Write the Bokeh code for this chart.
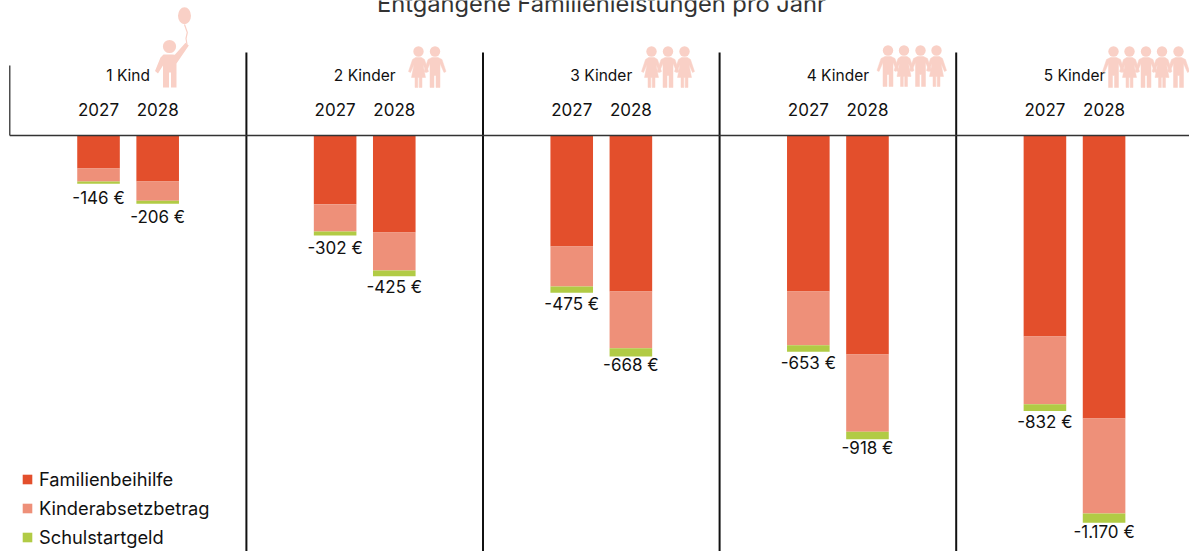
from bokeh.plotting import figure
from bokeh.embed import file_html
from bokeh.resources import INLINE
from bokeh.models import Range1d, ColumnDataSource, Legend, LegendItem
from bokeh.core.properties import value
import numpy as np

groups = ["1 Kind", "2 Kinder", "3 Kinder", "4 Kinder", "5 Kinder"]
years = ["2027", "2028"]
familienbeihilfe = [100, 139, 208, 293, 335, 471, 471, 662, 607, 855]
kinderabsetzbetrag = [39, 58, 82, 115, 121, 172, 163, 233, 205, 287]
schulstartgeld = [7, 9, 12, 17, 19, 25, 19, 23, 20, 28]
totals = [146, 206, 302, 425, 475, 668, 653, 918, 832, 1170]
title = "Entgangene Familienleistungen pro Jahr"
series = ["Familienbeihilfe", "Kinderabsetzbetrag", "Schulstartgeld"]
colors = ["#E34F2C", "#EE9079", "#B1CB45"]
label_gaps = [14, 13.5, 13, 11, 11, 8.5, 11, 9, 11, 9]

W, H = 1189, 551
FONT = "Inter"
INK = "#111111"
ICON = "#F9D0C6"
PITCH = 236.6
CX0 = 127.6
Y0 = 135.0
PX_PER_EUR = 0.331

p = figure(width=W, height=H, output_backend="svg", toolbar_location=None,
           x_range=Range1d(-CX0 / PITCH, (W - CX0) / PITCH),
           y_range=Range1d(-(H - Y0) / PX_PER_EUR, Y0 / PX_PER_EUR),
           min_border=0, outline_line_color=None, background_fill_color="white")
p.xaxis.visible = False
p.yaxis.visible = False
p.xgrid.visible = False
p.ygrid.visible = False
p.extra_x_ranges = {"px": Range1d(0, W)}
p.extra_y_ranges = {"px": Range1d(H, 0)}

g = np.repeat(np.arange(len(groups)), 2)
off = np.tile([-0.125, 0.125], len(groups))
x = g + off
src = ColumnDataSource(dict(x=x, f=-np.array(familienbeihilfe), k=-np.array(kinderabsetzbetrag),
                            s=-np.array(schulstartgeld), t=-np.array(totals), gap=label_gaps,
                            lab=["-" + f"{v:,}".replace(",", ".") + " €" for v in totals]))
rs = p.vbar_stack(["f", "k", "s"], x="x", width=0.18, color=colors, source=src, line_color=None)

# separators and baseline
p.segment(x0=[i - 0.5 for i in range(1, 5)], x1=[i - 0.5 for i in range(1, 5)],
          y0=[52] * 4, y1=[H] * 4, y_range_name="px", line_color="#111111", line_width=2)
p.segment(x0=[-0.5], x1=[-0.5], y0=[65], y1=[135], y_range_name="px", line_color="#222222", line_width=1.2)
p.segment(x0=[-0.5], x1=[4.6], y0=[0], y1=[0], line_color="#333333", line_width=1.4)

# text
p.text(x="x", y="t", text="lab", source=src, text_font=value(FONT), text_font_size="17px",
       text_color=INK, text_align="center", text_baseline="middle", y_offset="gap")
p.text(x=list(x), y=[108.5] * len(x), text=years * len(groups), y_range_name="px", text_font=value(FONT),
       text_font_size="17px", text_color=INK, text_align="center", text_baseline="middle")
p.text(x=list(range(5)), y=[74.5] * 5, text=groups, y_range_name="px", text_font=value(FONT),
       text_font_size="15.5px", text_color=INK, text_align="center", text_baseline="middle")
p.text(x=[(601 - CX0) / PITCH], y=[3], text=[title], y_range_name="px", text_font=value(FONT),
       text_font_size="23.7px", text_color="#333333", text_align="center", text_baseline="middle")

# pictograms
BOY = [(-3, 6), (3, 6), (7, 8), (11, 20), (9, 21), (5, 12), (5, 36), (1, 36), (1, 24), (-1, 24),
       (-1, 36), (-5, 36), (-5, 12), (-9, 21), (-11, 20), (-7, 8)]
GIRL = [(-3, 6), (3, 6), (6, 8), (10, 20), (8, 21), (4.5, 13), (7, 26), (3.5, 26), (3.5, 36), (0.7, 36),
        (0.7, 26), (-0.7, 26), (-0.7, 36), (-3.5, 36), (-3.5, 26), (-7, 26), (-4.5, 13), (-8, 21),
        (-10, 20), (-6, 8)]
kids = [
    [(418, 51, GIRL), (434.5, 51, BOY)],
    [(651, 51, GIRL), (667.5, 51, BOY), (684, 51, GIRL)],
    [(887.5, 50, BOY), (903.5, 50, GIRL), (920, 50, BOY), (936, 50, GIRL)],
    [(1113, 51, BOY), (1129, 51, GIRL), (1145.5, 51, BOY), (1161.5, 51, GIRL), (1178, 51, BOY)],
]
hx, hy, px, py = [], [], [], []
for row in kids:
    for cx, cy, shape in row:
        hx.append(cx); hy.append(cy)
        px.append([cx + a for a, b in shape]); py.append([cy + b for a, b in shape])
p.patches(px, py, x_range_name="px", y_range_name="px", fill_color=ICON, line_color=ICON, line_width=0.5)
p.circle(hx, hy, radius=5.2, x_range_name="px", y_range_name="px", fill_color=ICON, line_color=None)

# single child with balloon
p.circle([169], [46], radius=6.6, x_range_name="px", y_range_name="px", fill_color=ICON, line_color=None)
p.ellipse([184], [15.3], width=13, height=17, x_range_name="px", y_range_name="px", fill_color=ICON, line_color=None)
p.line([184, 186.8, 185.5, 186.5], [24, 32, 38, 44], x_range_name="px", y_range_name="px", line_color=ICON, line_width=1.2)
p.patch([163, 172, 174.3, 185, 188.3, 176, 176, 170.5, 170.5, 168.5, 168.5, 162.5, 162.5, 157.5, 154.5, 160],
        [54, 54, 54.3, 42.3, 45, 63, 87, 87, 72, 72, 87, 87, 65, 73, 70.5, 57],
        x_range_name="px", y_range_name="px", fill_color=ICON, line_color=None)

legend = Legend(items=[LegendItem(label=value(n), renderers=[r]) for n, r in zip(series, rs)],
                location=(21, 3), orientation="vertical", glyph_width=12, glyph_height=12,
                label_text_font=FONT, label_text_font_size="18.3px", label_text_color=INK,
                label_standoff=6, spacing=7, padding=0, margin=0, border_line_color=None,
                background_fill_alpha=0, label_height=17)
p.add_layout(legend, "center")

open("out.html", "w").write(file_html(p, INLINE))
